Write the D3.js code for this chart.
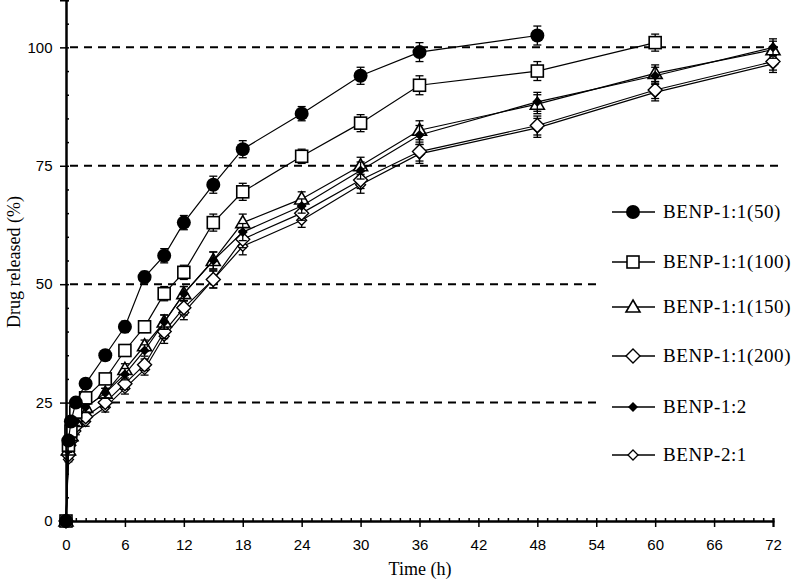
<!DOCTYPE html>
<html><head><meta charset="utf-8">
<script src="https://cdn.jsdelivr.net/npm/d3@7"></script>
<style>body{margin:0;background:#fff}svg{display:block}</style>
</head><body>
<svg id="c" width="799" height="581"></svg>
<script>
const times = [0,0.25,0.5,1,2,4,6,8,10,12,15,18,24,30,36,48,60,72];
const seriesNames = ["BENP-1:1(50)","BENP-1:1(100)","BENP-1:1(150)","BENP-1:1(200)","BENP-1:2","BENP-2:1"];
const s50  = [0,17,21,25,29,35,41,51.5,56,63,71,78.5,86,94,99,102.5,null,null];
const s100 = [0,16,19,23,26,30,36,41,48,52.5,63,69.5,77,84,92,95,101,null];
const s150 = [0,15,18,21,24,27,32,37,42,48,55,63,68,75,82.5,88,94.5,99.5];
const s200 = [0,14,17,20,22,25,29,33,40,45,51,59.5,65,72,78,83.5,91,97];
const s12  = [0,15,18,21,24,27,31,36,42,48,55,61,66.5,74,81.5,88.5,94,100];
const s21  = [0,13,16,19,21,24,28,32,39,44,51,58,63.5,71,77.5,83,90.5,96.5];
const errs = [0,0.5,0.5,0.8,1,1,1.2,1.2,1.5,1.5,1.8,1.8,1.5,1.8,2,2,1.8,1.8];
const xTicks = [0,6,12,18,24,30,36,42,48,54,60,66,72];
const yTicks = [0,25,50,75,100];
const allSeries = [s50,s100,s150,s200,s12,s21];

const svg = d3.select("#c");
const x = d3.scaleLinear().domain([0,72]).range([66,773]);
const y = d3.scaleLinear().domain([0,110]).range([521,0]);

svg.append("g").selectAll("line").data(yTicks.filter(d=>d>0)).join("line")
  .attr("x1",x(0)+4).attr("x2",778).attr("y1",d=>y(d)).attr("y2",d=>y(d))
  .attr("stroke","#000").attr("stroke-width",2).attr("stroke-dasharray","8,6");

const shapes = ["circle","square","triangle","diamond","sdiamond","sdiamond2"];
function marker(g, type){
  if(type==="circle") g.append("circle").attr("r",7).attr("fill","#000");
  else if(type==="square") g.append("rect").attr("x",-6).attr("y",-6).attr("width",12).attr("height",12).attr("fill","#fff").attr("stroke","#000").attr("stroke-width",1.6);
  else if(type==="triangle") g.append("path").attr("d","M0,-7L7,5L-7,5Z").attr("fill","#fff").attr("stroke","#000").attr("stroke-width",1.6);
  else if(type==="diamond") g.append("path").attr("d","M0,-7L7,0L0,7L-7,0Z").attr("fill","#fff").attr("stroke","#000").attr("stroke-width",1.4);
  else if(type==="sdiamond") g.append("path").attr("d","M0,-5L5,0L0,5L-5,0Z").attr("fill","#000");
  else g.append("path").attr("d","M0,-5L5,0L0,5L-5,0Z").attr("fill","#fff").attr("stroke","#000").attr("stroke-width",1.3);
}

const line = d3.line().defined(d=>d[1]!=null).x(d=>x(d[0])).y(d=>y(d[1]));
const order = [5,3,2,4,1,0];
order.forEach(i=>{
  const pts = times.map((t,j)=>[t,allSeries[i][j],errs[j]]).filter(d=>d[1]!=null);
  svg.append("path").datum(pts).attr("d",line).attr("fill","none").attr("stroke","#000").attr("stroke-width",1.2);
  const g = svg.append("g");
  pts.forEach(p=>{
    if(p[2]>0){
      const e=g.append("g").attr("stroke","#000").attr("stroke-width",1.3);
      e.append("line").attr("x1",x(p[0])).attr("x2",x(p[0])).attr("y1",y(p[1]-p[2])).attr("y2",y(p[1]+p[2]));
      [p[1]-p[2],p[1]+p[2]].forEach(v=>e.append("line").attr("x1",x(p[0])-4).attr("x2",x(p[0])+4).attr("y1",y(v)).attr("y2",y(v)));
    }
    const m = g.append("g").attr("transform",`translate(${x(p[0])},${y(p[1])})`);
    marker(m, shapes[i]);
  });
});

svg.append("rect").attr("x",596).attr("y",182).attr("width",203).attr("height",300).attr("fill","#fff");
const legY = [212,262,307,356,407,455];
seriesNames.forEach((n,i)=>{
  svg.append("line").attr("x1",612).attr("x2",655).attr("y1",legY[i]).attr("y2",legY[i]).attr("stroke","#000").attr("stroke-width",1.4);
  const m = svg.append("g").attr("transform",`translate(633,${legY[i]})`);
  marker(m, shapes[i]);
  svg.append("text").attr("x",663).attr("y",legY[i]+6).text(n)
    .attr("font-family","Liberation Serif").attr("font-size",19).attr("letter-spacing",0.6).attr("fill","#000");
});

const xa = svg.append("g").attr("transform",`translate(0,${y(0)})`);
xa.call(d3.axisBottom(x).tickValues(d3.range(0,73,1)).tickSize(-3).tickFormat(""));
xa.append("g").call(d3.axisBottom(x).tickValues(xTicks).tickSize(6).tickFormat(d3.format("d")));
xa.selectAll("path.domain").attr("stroke-width",2);
xa.selectAll("line").attr("stroke-width",1.5);
xa.selectAll("text").attr("font-family","Liberation Sans").attr("font-size",15).attr("fill","#000").attr("dy","1.3em");

const ya = svg.append("g").attr("transform",`translate(${x(0)},0)`);
ya.call(d3.axisLeft(y).tickValues(d3.range(0,111,5)).tickSize(-3).tickFormat(""));
ya.append("g").call(d3.axisLeft(y).tickValues(yTicks).tickSize(6).tickFormat(d3.format("d")));
ya.selectAll("path.domain").attr("stroke-width",2);
ya.selectAll("line").attr("stroke-width",1.5);
ya.selectAll("text").attr("font-family","Liberation Sans").attr("font-size",15).attr("fill","#000").attr("dx","-0.3em");

svg.append("text").attr("x",420).attr("y",575).attr("text-anchor","middle").text("Time (h)")
  .attr("font-family","Liberation Serif").attr("font-size",18);
svg.append("text").attr("transform","translate(20,262) rotate(-90)").attr("text-anchor","middle").text("Drug released (%)")
  .attr("font-family","Liberation Serif").attr("font-size",18);
</script>
</body></html>
